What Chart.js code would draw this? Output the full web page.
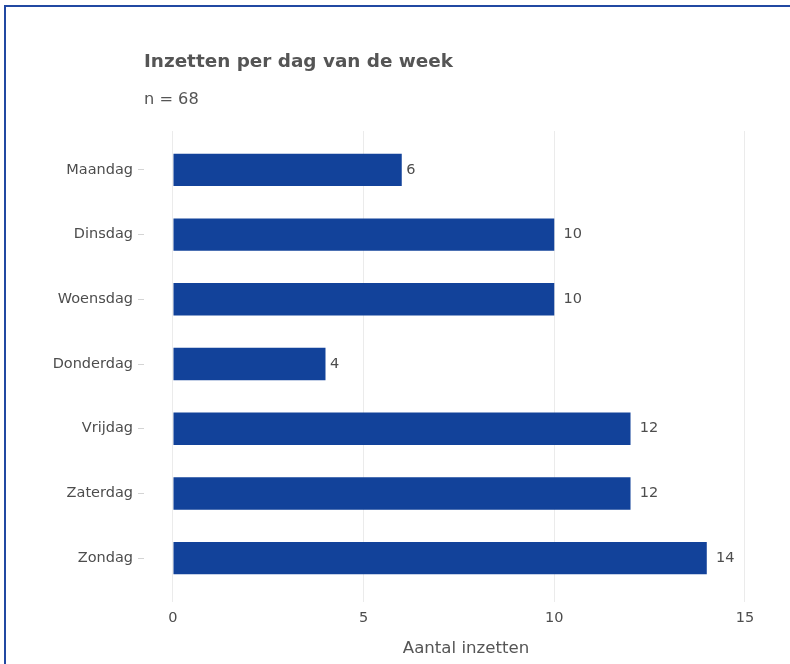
<!DOCTYPE html>
<html>
<head>
<meta charset="utf-8">
<script src="https://cdn.jsdelivr.net/npm/chart.js@4/dist/chart.umd.min.js"></script>
<style>
  html, body { margin: 0; padding: 0; background: #fff; overflow: hidden; }
  body { width: 790px; height: 664px; position: relative; font-family: "DejaVu Sans", sans-serif; }
  .frame { position: absolute; left: 4px; top: 5px; width: 900px; height: 800px;
    border-left: 2px solid #2148a2; border-top: 2px solid #2148a2; }
  .title { position: absolute; left: 144px; top: 50px; font-size: 18.4px; font-weight: bold; color: #555; white-space: nowrap; }
  .subtitle { position: absolute; left: 144px; top: 89px; font-size: 16.2px; color: #555; white-space: nowrap; }
  #wrap { position: absolute; left: 0; top: 0; width: 790px; height: 664px; }
</style>
</head>
<body>
<div class="frame"></div>
<div id="wrap"><canvas id="myChart"></canvas></div>
<div class="title">Inzetten per dag van de week</div>
<div class="subtitle">n = 68</div>
<script>
const days = ['Maandag', 'Dinsdag', 'Woensdag', 'Donderdag', 'Vrijdag', 'Zaterdag', 'Zondag'];
const counts = [6, 10, 10, 4, 12, 12, 14];
const xTicks = [0, 5, 10, 15];

const barColor = '#12429a';
const textColor = '#4d4d4d';

// labels next to the bars, shifted by half their width (like hjust = -0.5)
const valueLabels = {
	id: 'valueLabels',
	afterDatasetsDraw(chart) {
		const ctx = chart.ctx;
		ctx.save();
		ctx.font = '14.5px "DejaVu Sans"';
		ctx.fillStyle = textColor;
		ctx.textBaseline = 'middle';
		chart.getDatasetMeta(0).data.forEach((bar, i) => {
			const txt = String(counts[i]);
			const w = ctx.measureText(txt).width;
			ctx.fillText(txt, bar.x + w * 0.5, bar.y);
		});
		ctx.restore();
	}
};

function drawChart() {
	const ctx = document.getElementById('myChart');

	new Chart(ctx, {
		type: 'bar',
		data: {
			datasets: [
				{
					data: days.map((d, i) => ({ x: counts[i], y: i })),
					backgroundColor: barColor,
					borderWidth: 0,
					barPercentage: 0.5,
					categoryPercentage: 1
				}
			]
		},
		options: {
			indexAxis: 'y',
			responsive: true,
			maintainAspectRatio: false,
			animation: false,
			layout: { padding: { top: 131, right: 2, left: 0, bottom: 0 } },
			plugins: {
				legend: { display: false },
				tooltip: { enabled: false }
			},
			scales: {
				x: {
					type: 'linear',
					min: -0.76,
					max: 16.13,
					afterBuildTicks: scale => {
						scale.ticks = xTicks.map(v => ({ value: v }));
					},
					afterFit: scale => {
						scale.height = 67;
					},
					border: { display: false },
					grid: { color: '#ebebeb', lineWidth: 1, drawTicks: true, tickLength: 5 },
					ticks: {
						color: textColor,
						font: { family: 'DejaVu Sans', size: 14.5 },
						padding: 8,
						maxRotation: 0
					},
					title: {
						display: true,
						text: 'Aantal inzetten',
						color: '#555',
						font: { family: 'DejaVu Sans', size: 16.6 },
						padding: { top: 4, bottom: 5 }
					}
				},
				y: {
					type: 'linear',
					reverse: true,
					offset: false,
					min: -0.6,
					max: 6.6,
					afterBuildTicks: scale => {
						scale.ticks = days.map((d, i) => ({ value: i }));
					},
					afterFit: scale => {
						scale.width = 144;
					},
					border: { display: false },
					grid: { offset: false, drawOnChartArea: false, drawTicks: true, tickLength: 6, color: '#d4d4d4' },
					ticks: {
						color: textColor,
						font: { family: 'DejaVu Sans', size: 14.5 },
						padding: 5,
						callback: v => days[v]
					}
				}
			}
		},
		plugins: [valueLabels]
	});
}
drawChart();
</script>
</body>
</html>
